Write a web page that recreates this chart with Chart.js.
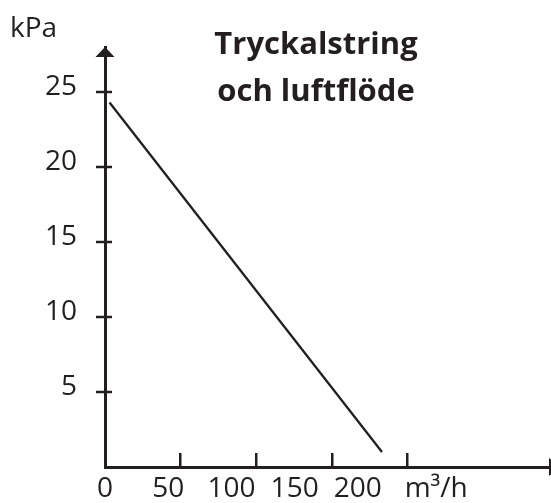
<!DOCTYPE html>
<html>
<head>
<meta charset="utf-8">
<script src="https://cdn.jsdelivr.net/npm/chart.js@4"></script>
<style>
  html, body { margin: 0; padding: 0; background: #fff; }
</style>
</head>
<body>
<canvas id="chart" width="551" height="503"></canvas>
<script>
// data
const flow = [3, 183];          // m3/h
const pressure = [24.3, 1.0];   // kPa
const yTicks = [5, 10, 15, 20, 25];
const xTicks = [50, 100, 150, 200];
const xLabels = [0, 50, 100, 150, 200];
const unitX = 'm³/h';
const unitY = 'kPa';
const titleLines = ['Tryckalstring', 'och luftflöde'];

const ink = '#231f20';
const UNIT_POS = 262;
Chart.defaults.font.family = "'Open Sans', sans-serif";
Chart.defaults.color = ink;

// arrows, crossing y ticks, title and unit text
const decor = {
    id: 'decor',
    afterDraw(chart) {
        const ctx = chart.ctx;
        const a = chart.chartArea;
        const y = chart.scales.y;
        ctx.save();
        ctx.strokeStyle = ink;
        ctx.fillStyle = ink;
        ctx.lineWidth = 2.5;
        y.ticks.forEach(t => {
            const py = y.getPixelForValue(t.value);
            ctx.beginPath();
            ctx.moveTo(a.left - 9, py);
            ctx.lineTo(a.left + 7, py);
            ctx.stroke();
        });
        // y arrow
        ctx.beginPath();
        ctx.moveTo(a.left, a.top);
        ctx.lineTo(a.left - 9.5, a.top + 10);
        ctx.lineTo(a.left + 9.5, a.top + 10);
        ctx.closePath();
        ctx.fill();
        // x arrow (mostly off canvas)
        ctx.beginPath();
        ctx.moveTo(a.right - 1, a.bottom - 9);
        ctx.lineTo(a.right + 12, a.bottom);
        ctx.lineTo(a.right - 1, a.bottom + 9);
        ctx.closePath();
        ctx.fill();

        ctx.textBaseline = 'alphabetic';
        ctx.font = "28px 'Open Sans', sans-serif";
        ctx.textAlign = 'left';
        ctx.fillText(unitY, 10, 37);

        ctx.font = "bold 31px 'Open Sans', sans-serif";
        ctx.textAlign = 'center';
        titleLines.forEach((s, i) => ctx.fillText(s, 316, 54 + i * 47));
        ctx.restore();
    }
};

new Chart(document.getElementById('chart'), {
    type: 'line',
    data: {
        datasets: [{
            data: flow.map((v, i) => ({ x: v, y: pressure[i] })),
            borderColor: ink,
            borderWidth: 2.3,
            pointRadius: 0,
            tension: 0,
            xAxisID: 'x',
            yAxisID: 'y'
        }]
    },
    options: {
        responsive: false,
        animation: false,
        layout: { padding: { top: 47, right: 1, left: 0, bottom: 0 } },
        plugins: { legend: { display: false }, tooltip: { enabled: false } },
        scales: {
            x: {
                type: 'linear',
                position: 'bottom',
                weight: 0,
                min: 0,
                max: 294,
                afterBuildTicks: s => { s.ticks = xTicks.map(v => ({ value: v })); },
                afterFit: s => { s.height = 0; },
                ticks: { display: false },
                grid: { drawOnChartArea: false, drawTicks: true, tickLength: -14, lineWidth: 2.5, color: ink },
                border: { display: true, width: 3, color: ink }
            },
            xl: {
                type: 'linear',
                position: 'bottom',
                weight: 1,
                min: 0,
                max: 352,
                afterBuildTicks: s => {
                    s.ticks = xLabels.map(v => ({ value: v })).concat([{ value: UNIT_POS }]);
                },
                afterFit: s => { s.height = 36; s.paddingLeft = 0; s.paddingRight = 0; },
                grid: { display: false },
                border: { display: false },
                ticks: {
                    autoSkip: false,
                    maxRotation: 0,
                    padding: -3,
                    font: { size: 28 },
                    color: ink,
                    callback: v => (v === UNIT_POS ? unitX : String(v))
                }
            },
            y: {
                type: 'linear',
                min: 0,
                max: 28,
                afterBuildTicks: s => { s.ticks = yTicks.map(v => ({ value: v })); },
                afterFit: s => { s.width = 105; s.paddingTop = 0; s.paddingBottom = 0; },
                grid: { display: false, drawTicks: false },
                border: { display: true, width: 3, color: ink },
                ticks: { padding: 28, labelOffset: -5, font: { size: 28 }, color: ink }
            }
        }
    },
    plugins: [decor]
});
</script>
</body>
</html>
